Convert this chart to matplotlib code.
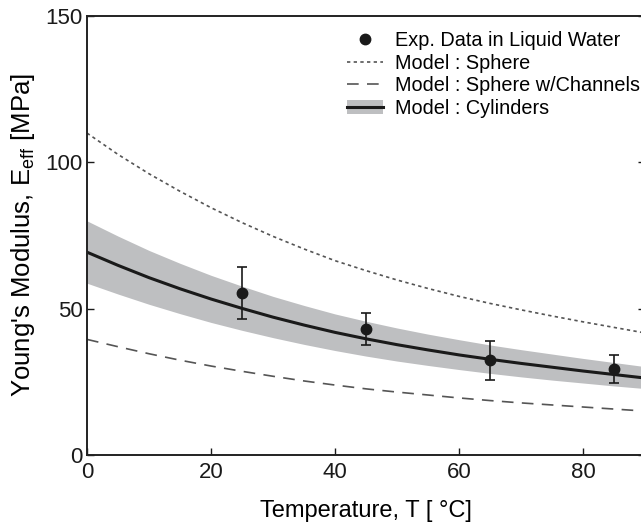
import matplotlib
matplotlib.use("Agg")
import matplotlib.pyplot as plt
import numpy as np

plt.rcParams['font.family'] = ['Liberation Sans', 'DejaVu Sans']

# Experimental data
T_exp = [25, 45, 65, 85]
E_exp = [55.5, 42.9, 32.5, 29.3]
E_err_low = [9.0, 5.3, 6.9, 4.8]
E_err_high = [8.8, 5.5, 6.6, 4.9]

# Model curves
T_model = [0, 5, 10, 15, 20, 25, 30, 35, 40, 45, 50, 55, 60, 65, 70, 75, 80, 85, 90]
E_sphere = [110.0, 102.7, 96.1, 90.1, 84.5, 79.4, 74.7, 70.4, 66.4, 63.0,
            59.8, 56.9, 54.2, 51.8, 49.6, 47.5, 45.5, 43.6, 41.7]
E_channels = [39.5, 37.0, 34.6, 32.4, 30.4, 28.6, 26.9, 25.3, 23.9, 22.6,
              21.5, 20.5, 19.5, 18.6, 17.8, 17.1, 16.4, 15.7, 15.0]
E_cyl = [69.3, 64.8, 60.6, 56.8, 53.3, 50.1, 47.1, 44.4, 41.9, 39.7,
         37.7, 35.9, 34.2, 32.7, 31.3, 30.0, 28.7, 27.5, 26.3]
E_cyl_upper = [80.0, 74.8, 69.9, 65.5, 61.4, 57.7, 54.2, 51.1, 48.2, 45.7,
               43.4, 41.3, 39.4, 37.6, 36.0, 34.5, 33.0, 31.6, 30.2]
E_cyl_lower = [58.7, 55.0, 51.5, 48.3, 45.3, 42.6, 40.1, 37.8, 35.7, 33.8,
               32.1, 30.6, 29.2, 27.9, 26.7, 25.6, 24.6, 23.6, 22.7]

xticks = [0, 20, 40, 60, 80]
yticks = [0, 50, 100, 150]

W, H = 641, 525
fig = plt.figure(figsize=(W / 100, H / 100), dpi=100)
ax = fig.add_axes([87 / W, (H - 455) / H, (645 - 87) / W, (455 - 16) / H])

band = ax.fill_between(T_model, E_cyl_lower, E_cyl_upper, color='#bebfc1', linewidth=0)
line_cyl, = ax.plot(T_model, E_cyl, color='#1a1a1a', lw=2.2)
line_sph, = ax.plot(T_model, E_sphere, color='#555555', lw=1.2, linestyle=(0, (2, 2)))
line_ch, = ax.plot(T_model, E_channels, color='#555555', lw=1.2, linestyle=(0, (7, 5)))
eb = ax.errorbar(T_exp, E_exp, yerr=[E_err_low, E_err_high], fmt='o', color='#1a1a1a',
                 markersize=7.5, capsize=3.5, elinewidth=1.2, capthick=1.2)

ax.set_xlim(0, 90)
ax.set_ylim(0, 150)
ax.set_xticks(xticks)
ax.set_yticks(yticks)
ax.tick_params(direction='in', length=5, width=1, labelsize=16, colors='#1a1a1a',
               top=False, right=True, pad=3)
ax.tick_params(axis='x', pad=5)
for s in ax.spines.values():
    s.set_linewidth(1.4)
    s.set_color('#222222')

ax.set_xlabel('Temperature, T [ °C]', fontsize=17, labelpad=12)
ax.set_ylabel(r"Young's Modulus, E$_\mathregular{eff}$ [MPa]", fontsize=18.5, labelpad=6)

handles = [eb[0], line_sph, line_ch, (band, line_cyl)]
labels = ['Exp. Data in Liquid Water', 'Model : Sphere', 'Model : Sphere w/Channels',
          'Model : Cylinders']
leg = fig.legend(handles, labels, loc='upper left',
                 bbox_to_anchor=(347 / W, (H - 31) / H), frameon=False, fontsize=14.3,
                 handlelength=1.8, handletextpad=0.6, labelspacing=0.18, borderaxespad=0,
                 borderpad=0)

fig.savefig('out.png', dpi=100)
